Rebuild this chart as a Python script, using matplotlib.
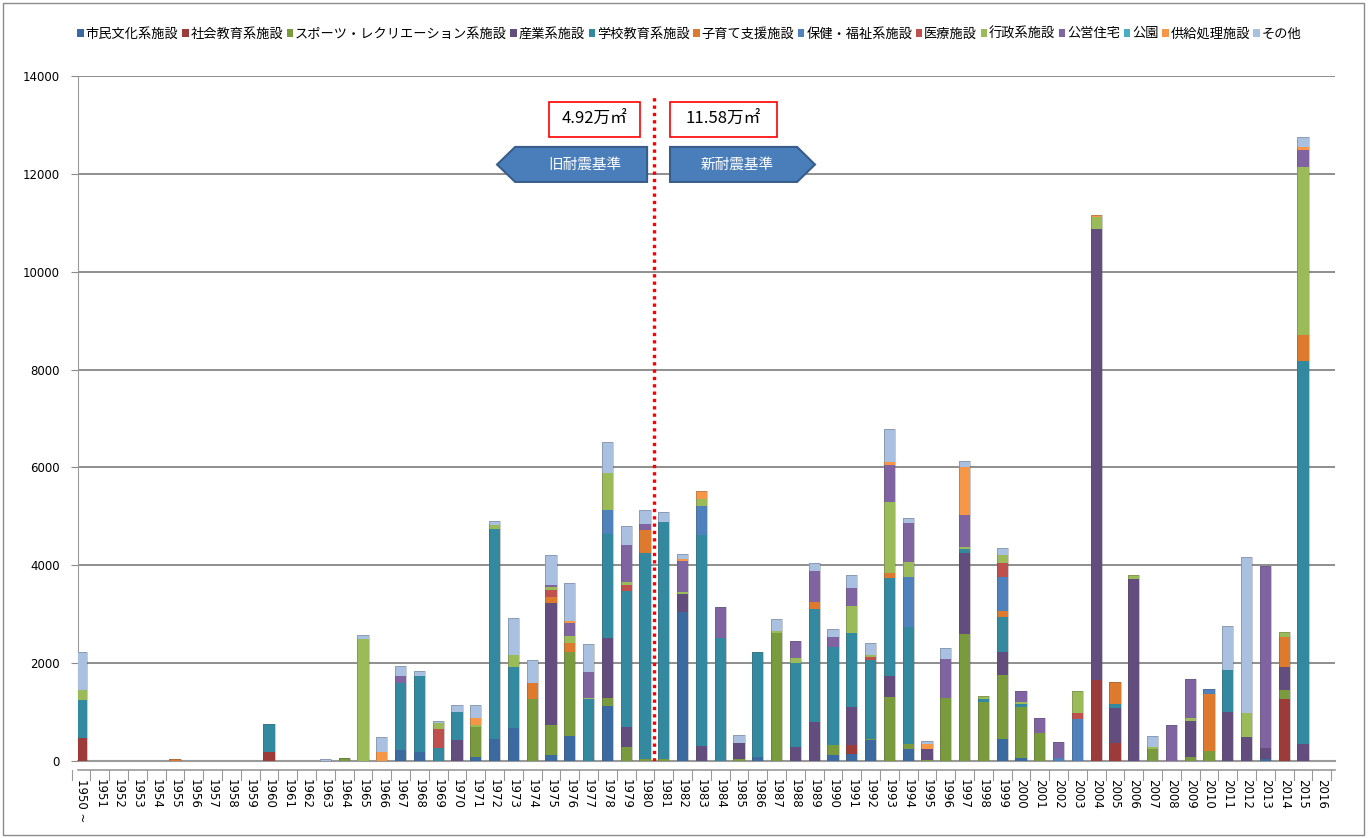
import numpy as np
import matplotlib
matplotlib.use('Agg')
import matplotlib.pyplot as plt
from matplotlib.patches import Polygon, Rectangle, Patch

plt.rcParams['font.family'] = ['Noto Sans CJK JP', 'DejaVu Sans']

# --- DATA (m2) ---
years = list(range(1950, 2017))
year_labels = ['1950 ~'] + [str(y) for y in years[1:]]

series_names = ['市民文化系施設', '社会教育系施設', 'スポーツ・レクリエーション系施設', '産業系施設',
                '学校教育系施設', '子育て支援施設', '保健・福祉系施設', '医療施設', '行政系施設',
                '公営住宅', '公園', '供給処理施設', 'その他']
series_colors = ['#3B6AA0', '#9C3B39', '#7A9A3E', '#634D7F', '#338AA0', '#DD7A2E', '#4F81BD',
                 '#C0504D', '#9BBB59', '#8064A2', '#4BACC6', '#F79646', '#A9C0E0']

shimin = {1967: 220, 1968: 190, 1971: 80, 1972: 443, 1973: 680, 1975: 130, 1976: 511,
          1978: 1124, 1982: 3052, 1986: 80, 1990: 120, 1991: 150, 1992: 430, 1994: 239,
          1999: 443, 2000: 55, 2013: 35}
shakai = {1950: 480, 1960: 190, 1991: 177, 2004: 1656, 2005: 362, 2014: 1267}
sports = {1964: 60, 1971: 620, 1974: 1260, 1975: 600, 1976: 1723, 1978: 170, 1979: 293,
          1980: 35, 1981: 35, 1985: 50, 1987: 2610, 1990: 207, 1992: 20, 1993: 1315,
          1994: 108, 1995: 30, 1996: 1294, 1997: 2590, 1998: 1212, 1999: 1308, 2000: 1042,
          2001: 566, 2007: 239, 2009: 80, 2010: 204, 2014: 184}
sangyo = {1970: 430, 1975: 2506, 1978: 1214, 1979: 396, 1982: 361, 1983: 307, 1985: 312,
          1988: 280, 1989: 803, 1991: 783, 1993: 422, 1995: 210, 1997: 1655, 1999: 471,
          2004: 9214, 2005: 715, 2006: 3720, 2009: 738, 2011: 995, 2012: 497, 2013: 237,
          2014: 477, 2015: 350}
gakko = {1950: 765, 1960: 560, 1967: 1380, 1968: 1545, 1969: 260, 1970: 570, 1972: 4300,
         1973: 1235, 1977: 1260, 1978: 2126, 1979: 2792, 1980: 4223, 1981: 4857, 1983: 4313,
         1984: 2508, 1986: 2154, 1988: 1717, 1989: 2297, 1990: 2009, 1991: 1500, 1992: 1614,
         1993: 1997, 1994: 2398, 1997: 88, 1998: 48, 1999: 715, 2000: 68, 2005: 88,
         2011: 865, 2015: 7826}
kosodate = {1955: 40, 1974: 328, 1975: 122, 1976: 184, 1980: 464, 1989: 156, 1993: 116,
            1999: 129, 2005: 456, 2010: 1166, 2014: 613, 2015: 524}
hoken = {1978: 496, 1983: 599, 1994: 1022, 1999: 701, 2002: 55, 2003: 852, 2010: 108}
iryo = {1969: 390, 1975: 137, 1979: 116, 1992: 56, 1999: 273, 2003: 123}
gyosei = {1950: 204, 1965: 2500, 1969: 120, 1971: 35, 1972: 80, 1973: 245, 1975: 55,
          1976: 143, 1977: 20, 1978: 763, 1979: 69, 1982: 34, 1983: 136, 1987: 47, 1988: 103,
          1991: 558, 1992: 50, 1993: 1450, 1994: 294, 1997: 47, 1998: 68, 1999: 170,
          2000: 45, 2003: 462, 2004: 250, 2006: 80, 2007: 54, 2009: 55, 2012: 478,
          2014: 102, 2015: 3448}
koei = {1967: 140, 1975: 47, 1976: 266, 1977: 545, 1979: 749, 1980: 116, 1982: 648,
        1984: 646, 1988: 360, 1989: 634, 1990: 204, 1991: 362, 1993: 750, 1994: 797,
        1996: 784, 1997: 648, 2000: 227, 2001: 307, 2002: 340, 2008: 736, 2009: 797,
        2013: 3714, 2015: 341}
koen = {}
kyokyu = {1966: 190, 1971: 140, 1976: 33, 1982: 25, 1983: 164, 1993: 68, 1995: 107,
          1997: 988, 2004: 40, 2015: 60}
sonota = {1950: 780, 1963: 40, 1965: 75, 1966: 300, 1967: 210, 1968: 110, 1969: 50,
          1970: 140, 1971: 270, 1972: 90, 1973: 770, 1974: 476, 1975: 613, 1976: 785,
          1977: 560, 1978: 634, 1979: 395, 1980: 292, 1981: 204, 1982: 105, 1985: 169,
          1987: 239, 1989: 150, 1990: 152, 1991: 272, 1992: 236, 1993: 662, 1994: 102,
          1995: 68, 1996: 225, 1997: 116, 1999: 138, 2007: 218, 2011: 900, 2012: 3189,
          2015: 211}

series_data = [shimin, shakai, sports, sangyo, gakko, kosodate, hoken, iryo, gyosei,
               koei, koen, kyokyu, sonota]

old_total_label = '4.92万㎡'
new_total_label = '11.58万㎡'

# --- FIGURE ---
fig = plt.figure(figsize=(13.69, 8.38), dpi=100)
fig.patches.append(Rectangle((0.002, 0.004), 0.994, 0.993, transform=fig.transFigure,
                             fill=False, edgecolor='#8a8a8a', linewidth=1))
ax = fig.add_axes([78 / 1369, 1 - 761 / 838, (1335 - 78) / 1369, (761 - 76) / 838])

x = np.arange(len(years))
bottom = np.zeros(len(years))
handles = []
for name, color, d in zip(series_names, series_colors, series_data):
    vals = np.array([d.get(y, 0) for y in years], dtype=float)
    ax.bar(x, vals, bottom=bottom, width=0.6, color=color, edgecolor='none', zorder=3)
    bottom += vals
    handles.append(Patch(facecolor=color, edgecolor='none', label=name))

# cylinder outline
for xi, top in zip(x, bottom):
    if top > 0:
        ax.bar(xi, top, width=0.6, fill=False, edgecolor=(0.3, 0.3, 0.3, 0.35),
               linewidth=0.6, zorder=4)

ax.set_xlim(-0.16, 66.7)
ax.set_ylim(0, 14000)
ax.set_yticks(range(0, 14001, 2000))
ax.set_xticks(x)
ax.set_xticklabels(year_labels, rotation=-90, fontsize=8.5, family='DejaVu Sans')
ax.tick_params(axis='x', length=0, pad=13)
ax.tick_params(axis='y', length=5, color='#8a8a8a', labelsize=8.5, pad=8)
for lab in ax.get_yticklabels():
    lab.set_family('DejaVu Sans')
ax.grid(axis='y', color='#868686', linewidth=1.3, zorder=1)
for s in ['top', 'right']:
    ax.spines[s].set_visible(False)
ax.spines['left'].set_color('#9a9a9a')
ax.spines['bottom'].set_color('#9a9a9a')
ax.spines['bottom'].set_linewidth(1.5)

# floor line and small tick marks between year labels
ax.plot([-0.16, 66.7], [-180, -180], color='#9a9a9a', lw=1.2, clip_on=False, zorder=2)
for xi in np.arange(-0.5, 67, 1):
    ax.plot([xi, xi], [-180, -380], color='#9a9a9a', lw=0.8, clip_on=False, zorder=2)

# boundary between old and new seismic standards
ax.plot([30.5, 30.5], [0, 13600], color='red', linestyle=(0, (1, 1.2)), lw=2.4, zorder=5)

# total boxes
for x0, x1, txt in [(24.89, 29.73, old_total_label), (31.33, 37.02, new_total_label)]:
    ax.add_patch(Rectangle((x0, 12755), x1 - x0, 715, facecolor='white', edgecolor='red',
                           linewidth=1.2, zorder=6))
    ax.text((x0 + x1) / 2, 13112, txt, ha='center', va='center', fontsize=12, zorder=7)

# arrow labels
left_arrow = [(22.13, 12190), (23.09, 12550), (30.11, 12550), (30.11, 11835), (23.09, 11835)]
right_arrow = [(31.33, 12550), (38.09, 12550), (39.04, 12190), (38.09, 11835), (31.33, 11835)]
for pts, txt, cx in [(left_arrow, '旧耐震基準', 26.8), (right_arrow, '新耐震基準', 34.9)]:
    ax.add_patch(Polygon(pts, closed=True, facecolor='#4A7EBB', edgecolor='#385D8A',
                         linewidth=1.5, zorder=6))
    ax.text(cx, 12190, txt, ha='center', va='center', fontsize=10.5, color='white', zorder=7)

fig.legend(handles=handles, loc='upper left', bbox_to_anchor=(72 / 1369, 1 - 22 / 838),
           ncol=13, frameon=False, fontsize=9.5, handlelength=0.5, handleheight=0.5,
           handletextpad=0.15, columnspacing=0.25, borderaxespad=0)

fig.savefig('out.png', dpi=100)
